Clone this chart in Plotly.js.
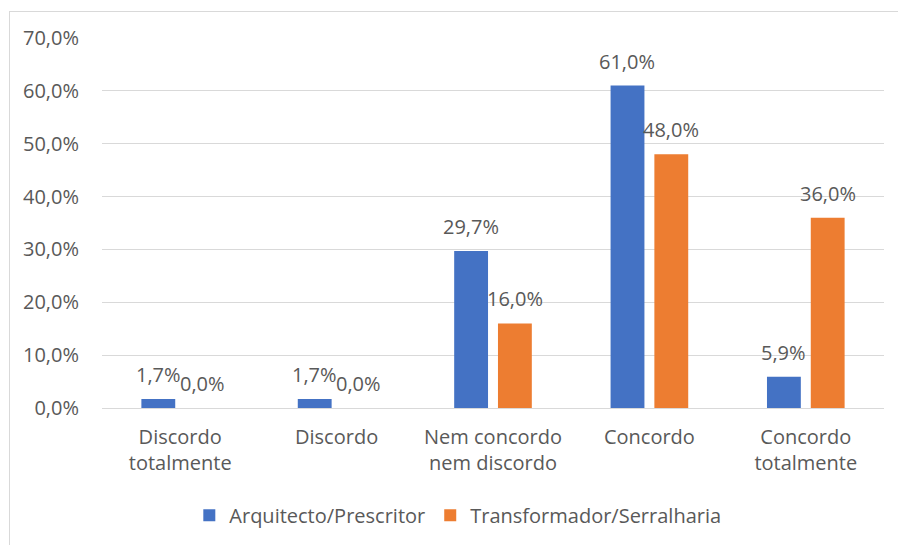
<!DOCTYPE html>
<html><head><meta charset="utf-8">
<script src="https://cdn.plot.ly/plotly-3.0.1.min.js"></script>
<style>
html,body{margin:0;padding:0;background:#fff;}
#wrap{position:relative;width:898px;height:545px;overflow:hidden;}
#chart{position:absolute;left:0;top:0;width:898px;height:545px;}
#frame{position:absolute;left:9px;top:11px;width:900px;height:600px;border-left:1px solid #D9D9D9;border-top:1px solid #D9D9D9;pointer-events:none;}
</style>
</head><body>
<div id="wrap"><div id="chart"></div><div id="frame"></div></div>
<script>
const categories = ["Discordo<br>totalmente","Discordo","Nem concordo<br>nem discordo","Concordo","Concordo<br>totalmente"];
const seriesNames = ["Arquitecto/Prescritor","Transformador/Serralharia"];
const arquitecto = [1.7, 1.7, 29.7, 61.0, 5.9];
const transformador = [0.0, 0.0, 16.0, 48.0, 36.0];
const yTicks = [0,10,20,30,40,50,60,70];
const yTickLabels = ["0,0%","10,0%","20,0%","30,0%","40,0%","50,0%","60,0%","70,0%"];
const colors = ["#4472C4","#ED7D31"];

const font = {family:"'Open Sans', sans-serif", size:20, color:"#595959"};
const series = [arquitecto, transformador];
const traces = series.map((vals,i)=>({
  type:"bar", name:seriesNames[i], x:categories, y:vals, marker:{color:colors[i]}, hoverinfo:"none"
}));
const offsets = [-22, 22];
const annotations = [];
series.forEach((vals,i)=>{
  vals.forEach((v,j)=>{
    annotations.push({x:categories[j], y:v, xref:"x", yref:"y",
      text:v.toFixed(1).replace(".",",")+"%", showarrow:false,
      xanchor:"center", yanchor:"bottom", xshift:offsets[i], yshift:9, font:font});
  });
});
const layout = {
  width:898, height:545,
  margin:{l:102, r:14, t:38, b:136},
  paper_bgcolor:"rgba(0,0,0,0)", plot_bgcolor:"#fff",
  font:font, barmode:"group", bargap:0.44, bargroupgap:0.227,
  showlegend:true, annotations:annotations,
  legend:{orientation:"h", x:0.455, xanchor:"center", y:-0.234, yanchor:"top", font:font, traceorder:"normal"},
  xaxis:{type:"category", showgrid:false, showline:true, linecolor:"#D9D9D9", linewidth:1, ticks:"", tickfont:font, ticklabelstandoff:11, automargin:false},
  yaxis:{range:[0,70], tickvals:yTicks, ticktext:yTickLabels, showgrid:true, gridcolor:"#D9D9D9", gridwidth:1,
         zeroline:false, showline:false, ticks:"", ticklabelstandoff:22, tickfont:font, automargin:false}
};
Plotly.newPlot("chart", traces, layout, {displayModeBar:false, staticPlot:true});
</script>
</body></html>
